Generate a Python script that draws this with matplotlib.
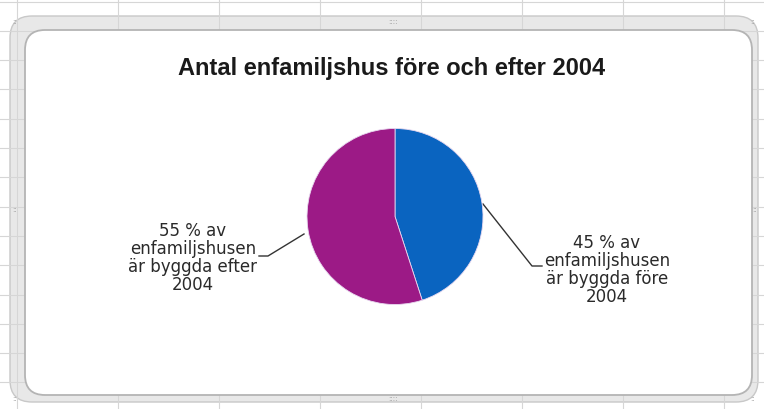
import matplotlib
matplotlib.use("Agg")
import matplotlib.pyplot as plt
from matplotlib.patches import FancyBboxPatch
import numpy as np

# Chart data
title = "Antal enfamiljshus före och efter 2004"
values = [45, 55]
slice_labels = [
    "45 % av\nenfamiljshusen\när byggda före\n2004",
    "55 % av\nenfamiljshusen\när byggda efter\n2004",
]
colors = ["#0a64c0", "#9c1a86"]

W, H = 764, 410
fig = plt.figure(figsize=(W / 100, H / 100), dpi=100)
fig.patch.set_facecolor("white")

# Background axes in pixel coordinates (y downwards)
bg = fig.add_axes([0, 0, 1, 1])
bg.set_xlim(0, W)
bg.set_ylim(H, 0)
bg.axis("off")

# Excel selection band around the chart
band = FancyBboxPatch((10, 17), 748, 386,
                      boxstyle="round,pad=0,rounding_size=22",
                      facecolor="#e8e8e8", edgecolor="#c8c8c8", lw=1)
bg.add_patch(band)

# Spreadsheet grid lines
for x in np.arange(17, W, 101):
    bg.plot([x, x], [0, H], color="#d6d6d6", lw=0.8, zorder=1)
for y in np.arange(2.5, H, 29.3):
    bg.plot([0, W], [y, y], color="#d6d6d6", lw=0.8, zorder=1)

# White chart area
area = FancyBboxPatch((25, 31), 727, 365,
                      boxstyle="round,pad=0,rounding_size=20",
                      facecolor="white", edgecolor="#b4b4b4", lw=1.3, zorder=2)
bg.add_patch(area)

# small handle dots on the frame
for hx, hy in [(393, 22), (393, 399), (15, 22), (753, 22), (15, 399), (753, 399), (15, 210), (755, 210)]:
    bg.text(hx, hy, "::::" if hx == 393 else "::",
            color="#9a9a9a", fontsize=5, ha="center", va="center", zorder=3)

bg.text(392, 68, title, fontsize=17, fontweight="bold",
        family="Liberation Sans", color="#1a1a1a",
        ha="center", va="center", zorder=3)

# Pie in its own axes
cx, cy, r = 395, 217.5, 88
pie_ax = fig.add_axes([(cx - r) / W, (H - cy - r) / H, 2 * r / W, 2 * r / H])
pie_ax.set_zorder(2)
pie_ax.pie(values, colors=colors, startangle=90, counterclock=False,
           wedgeprops=dict(edgecolor="#e8d8f0", linewidth=0.6))
pie_ax.set_xlim(-1, 1)
pie_ax.set_ylim(-1, 1)
pie_ax.set_aspect("equal")
pie_ax.axis("off")

# Data labels with leader lines
bg.text(607, 270, slice_labels[0], fontsize=12, family="DejaVu Sans",
        color="#2a2a2a", ha="center", va="center", linespacing=1.0, zorder=3)
bg.plot([483, 532, 542], [205, 267, 267], color="#333333", lw=1, zorder=3)

bg.text(193, 258, slice_labels[1], fontsize=12, family="DejaVu Sans",
        color="#2a2a2a", ha="center", va="center", linespacing=1.0, zorder=3)
bg.plot([304, 268, 259], [235, 257, 257], color="#333333", lw=1, zorder=3)

fig.savefig("out.png", dpi=100)
